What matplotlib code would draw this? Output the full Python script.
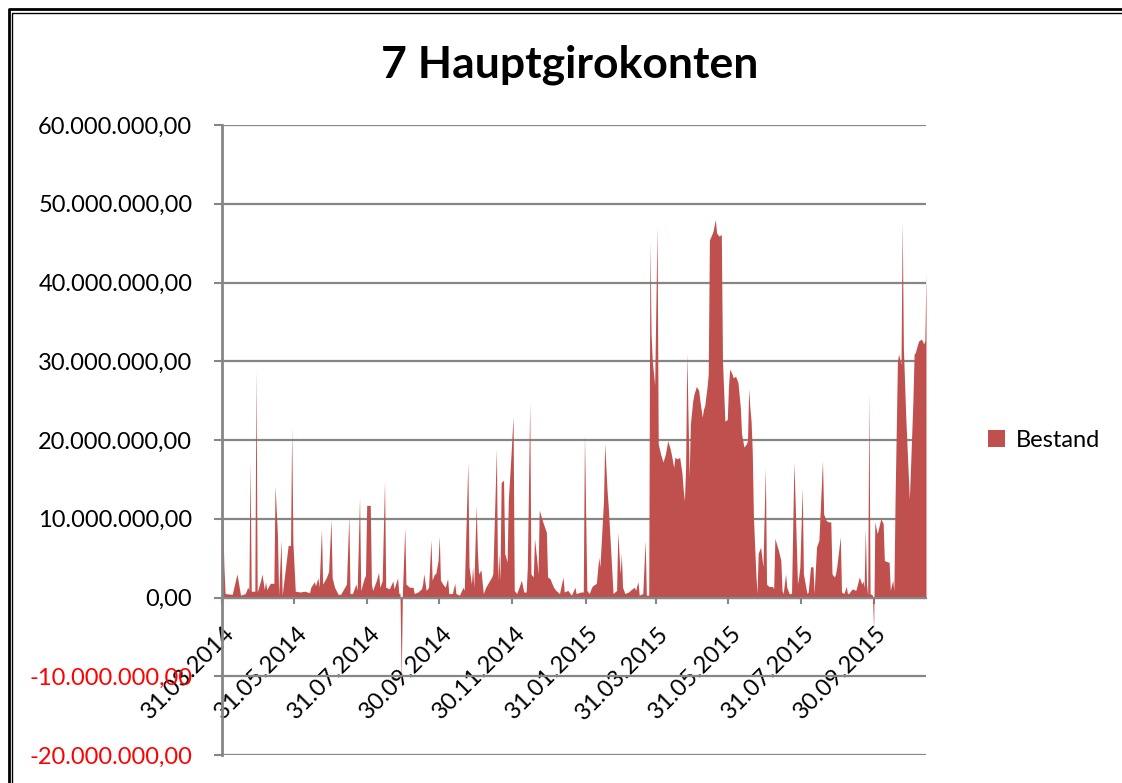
import numpy as np
import pandas as pd
import matplotlib
matplotlib.use("Agg")
import matplotlib.pyplot as plt
from matplotlib.lines import Line2D
from matplotlib.patches import Patch
from matplotlib.transforms import ScaledTranslation

# ---------------- data ----------------
start_date = "31.03.2014"
# day offset from start date, value in millions EUR
day_offset = [
    0, 1, 2, 3, 9, 13, 16, 20, 22, 23, 24, 25, 28, 29, 30, 33, 34, 36, 37, 38, 41,
    44, 45, 47, 48, 50, 51, 56, 58, 59, 60, 62, 66, 70, 74, 75, 78, 79, 81, 82, 84,
    85, 88, 90, 92, 93, 95, 98, 100, 102, 105, 107, 108, 110, 113, 114, 116, 117, 120, 121, 122,
    125, 126, 127, 130, 132, 133, 135, 137, 138, 141, 144, 145, 148, 149, 150, 151, 152, 154, 155, 158,
    161, 162, 165, 168, 169, 170, 172, 174, 176, 177, 179, 180, 182, 183, 184, 186, 188, 190, 191, 194,
    196, 197, 200, 203, 204, 207, 208, 210, 211, 212, 214, 215, 216, 218, 220, 222, 227, 228, 231, 232,
    233, 234, 235, 237, 238, 240, 241, 243, 245, 246, 248, 250, 252, 254, 256, 257, 259, 260, 262, 263,
    265, 266, 267, 270, 273, 274, 276, 279, 281, 284, 287, 288, 291, 294, 297, 298, 302, 304, 305, 307,
    309, 311, 312, 315, 317, 318, 321, 322, 324, 325, 328, 329, 332, 333, 335, 336, 337, 339, 342, 345,
    347, 348, 349, 350, 351, 354, 356, 357, 359, 360, 361, 362, 364, 366, 367, 369, 371, 373, 375, 377,
    378, 380, 381, 383, 385, 387, 388, 389, 390, 391, 393, 394, 396, 397, 399, 401, 402, 404, 405, 406,
    408, 409, 410, 412, 413, 415, 416, 418, 420, 421, 423, 425, 426, 427, 429, 430, 432, 433, 434, 436,
    437, 439, 441, 442, 443, 444, 445, 446, 447, 449, 450, 451, 453, 455, 457, 458, 460, 463, 464, 465,
    468, 470, 471, 472, 474, 475, 477, 479, 481, 482, 484, 485, 486, 488, 489, 491, 492, 493, 495, 497,
    498, 500, 502, 503, 505, 506, 508, 510, 512, 513, 515, 516, 517, 520, 521, 523, 525, 526, 527, 530,
    533, 536, 538, 539, 540, 541, 542, 543, 544, 545, 547, 548, 549, 551, 552, 554, 556, 557, 560, 561,
    562, 564, 565, 566, 568, 569, 571, 572, 573, 575, 578, 579, 581, 582, 583, 585, 586, 588, 589, 590,
    591, 592,
]
bestand_mio = [
    11.0, 10.0, 4.0, 0.5, 0.4, 3.0, 0.3, 0.5, 1.3, 1.0, 17.2, 0.8, 0.8, 29.0, 0.7, 2.2, 3.0, 1.0, 2.0, 1.0, 1.8,
    1.8, 14.2, 8.0, 0.3, 7.3, 0.3, 6.6, 6.6, 21.6, 7.0, 0.8, 0.7, 0.8, 0.6, 1.3, 2.0, 1.5, 2.5, 1.3, 8.7,
    1.7, 2.5, 3.3, 9.9, 2.5, 1.3, 0.4, 0.4, 0.9, 1.7, 10.4, 0.5, 0.5, 1.7, 0.9, 12.8, 0.9, 2.5, 2.8, 11.7,
    11.7, 1.7, 0.9, 2.1, 3.2, 1.3, 2.1, 14.8, 1.3, 1.1, 2.1, 1.1, 2.5, 0.5, 0.5, -11.0, 0.5, 8.9, 1.7, 1.3,
    1.3, 0.5, 0.7, 1.1, 1.7, 3.0, 0.9, 1.3, 7.3, 2.2, 3.0, 3.0, 4.7, 7.8, 2.2, 1.7, 1.3, 2.4, 0.5, 0.5,
    1.8, 0.5, 0.3, 1.3, 0.9, 17.2, 3.9, 1.7, 3.9, 1.3, 11.7, 6.0, 3.0, 3.5, 0.5, 1.3, 2.6, 3.0, 18.9, 2.2,
    5.6, 2.2, 14.6, 14.9, 5.6, 4.5, 12.3, 17.4, 23.0, 0.9, 0.5, 1.3, 2.2, 0.7, 0.7, 3.9, 24.8, 3.0, 2.6, 7.5,
    4.7, 3.0, 11.1, 9.6, 8.3, 2.6, 2.4, 1.3, 0.9, 0.5, 2.6, 0.7, 0.9, 0.3, 1.3, 0.5, 0.7, 0.7, 20.8, 0.9,
    0.5, 1.3, 1.5, 1.8, 5.1, 3.9, 12.3, 19.6, 13.6, 11.5, 3.4, 0.5, 0.9, 8.3, 3.0, 5.6, 1.3, 0.5, 0.7, 1.1,
    1.3, 0.9, 1.5, 2.0, 0.3, 0.5, 7.3, 0.3, 0.3, 45.2, 33.4, 30.0, 27.0, 47.1, 19.5, 18.2, 17.2, 18.2, 19.9, 18.9,
    18.2, 16.5, 17.8, 17.6, 17.8, 15.7, 13.6, 12.3, 16.5, 31.1, 15.3, 22.0, 25.0, 25.8, 26.8, 26.3, 25.0, 22.9, 23.9, 24.3,
    26.7, 28.4, 45.4, 46.1, 46.5, 48.0, 46.3, 45.9, 46.1, 30.0, 22.4, 22.6, 26.7, 29.0, 28.4, 27.9, 28.1, 27.7, 27.3, 24.1,
    20.8, 19.1, 19.5, 19.9, 26.5, 24.1, 22.4, 18.6, 10.2, 3.0, 0.5, 5.6, 6.4, 3.9, 16.5, 1.7, 1.4, 1.4, 1.1, 7.5,
    6.0, 4.7, 0.9, 0.5, 3.0, 1.3, 0.5, 0.5, 17.2, 12.3, 1.7, 2.6, 3.9, 14.0, 3.0, 1.3, 0.5, 0.7, 3.9, 3.9,
    0.5, 6.4, 7.3, 10.6, 17.4, 10.6, 9.8, 9.6, 9.6, 3.0, 2.6, 3.0, 3.9, 7.7, 0.7, 0.5, 1.4, 0.5, 0.5, 1.1,
    0.9, 2.6, 1.7, 2.1, 1.3, 8.7, 1.7, 0.3, 26.0, 0.5, 0.3, -4.2, 9.6, 8.1, 8.7, 10.0, 9.4, 4.7, 4.5, 4.5,
    0.9, 2.2, 0.9, 12.3, 30.0, 30.9, 29.6, 47.8, 31.7, 22.9, 12.5, 16.5, 25.0, 30.9, 31.1, 32.2, 32.6, 32.8, 32.6, 32.2,
    32.6, 41.2,
]
tick_dates = ["31.03.2014", "31.05.2014", "31.07.2014", "30.09.2014", "30.11.2014",
              "31.01.2015", "31.03.2015", "31.05.2015", "31.07.2015", "30.09.2015"]
y_ticks = [-20e6, -10e6, 0, 10e6, 20e6, 30e6, 40e6, 50e6, 60e6]
title = "7 Hauptgirokonten"
series_name = "Bestand"

# ---------------- figure ----------------
W, H = 1122, 783
plt.rcParams['font.family'] = ['Lato', 'DejaVu Sans']
fig = plt.figure(figsize=(W / 100, H / 100), dpi=100)
fig.patch.set_facecolor('white')

ax = fig.add_axes([221.5 / W, 1 - 755 / H, (926 - 221.5) / W, (755 - 125) / H])

t0 = pd.to_datetime(start_date, format="%d.%m.%Y")
x = t0 + pd.to_timedelta(day_offset, unit="D")
y = np.array(bestand_mio) * 1e6

fill_color = '#C0504D'
grid_color = '#868686'
ax.fill_between(x, 0, y, color=fill_color, linewidth=0, zorder=1)

ax.set_xlim(t0, t0 + pd.Timedelta(days=592))
ax.set_ylim(-20e6, 60e6)


def fmt_de(v):
    s = f"{abs(v):,.2f}".replace(",", "X").replace(".", ",").replace("X", ".")
    return ("-" if v < 0 else "") + s


ax.grid(axis='y', color=grid_color, linewidth=1.6)
ax.set_axisbelow(True)

for s in ['top', 'right']:
    ax.spines[s].set_visible(False)
ax.spines['left'].set_color(grid_color)
ax.spines['left'].set_linewidth(2.0)
ax.spines['bottom'].set_position(('data', 0))
ax.spines['bottom'].set_color(grid_color)
ax.spines['bottom'].set_linewidth(1.6)
ax.spines['bottom'].set_zorder(3)

ax.tick_params(axis='y', direction='out', length=6, width=1.5, color=grid_color,
               labelsize=17, pad=15)
ax.tick_params(axis='x', direction='out', length=4.5, width=1.5, color=grid_color,
               labelsize=17, pad=4)

ax.set_yticks(y_ticks)
ax.set_yticklabels([fmt_de(v) for v in y_ticks])
for lab, v in zip(ax.get_yticklabels(), y_ticks):
    lab.set_color('#FF0000' if v < 0 else 'black')

tick_pos = pd.to_datetime(tick_dates, format="%d.%m.%Y")
ax.set_xticks(tick_pos)
ax.set_xticklabels(tick_dates)
for lab in ax.get_xticklabels():
    lab.set_rotation(45)
    lab.set_ha('right')
    lab.set_va('center')
    lab.set_rotation_mode('anchor')
    lab.set_transform(lab.get_transform() + ScaledTranslation(7 / 72, -15 / 72, fig.dpi_scale_trans))

fig.text(570 / W, 1 - 65 / H, title, ha='center', va='center', fontsize=32,
         fontweight='bold')

fig.legend(handles=[Patch(facecolor=fill_color, edgecolor='none')], labels=[series_name],
           loc='center left', bbox_to_anchor=(988 / W, 1 - 440 / H), frameon=False,
           handlelength=0.7, handleheight=0.7, handletextpad=0.5, fontsize=17,
           borderaxespad=0, borderpad=0)

# double frame line at top and left edge of the chart
def fline(xs, ys, lw):
    fig.add_artist(Line2D([v / W for v in xs], [1 - v / H for v in ys], color='black',
                          linewidth=lw, transform=fig.transFigure, solid_capstyle='butt'))

fline([8.7, 8.7, W + 5], [H + 5, 9.3, 9.3], 2.0)
fline([12.2, 12.2, W + 5], [H + 5, 13.0, 13.0], 1.0)

fig.savefig("out.png", dpi=100)
